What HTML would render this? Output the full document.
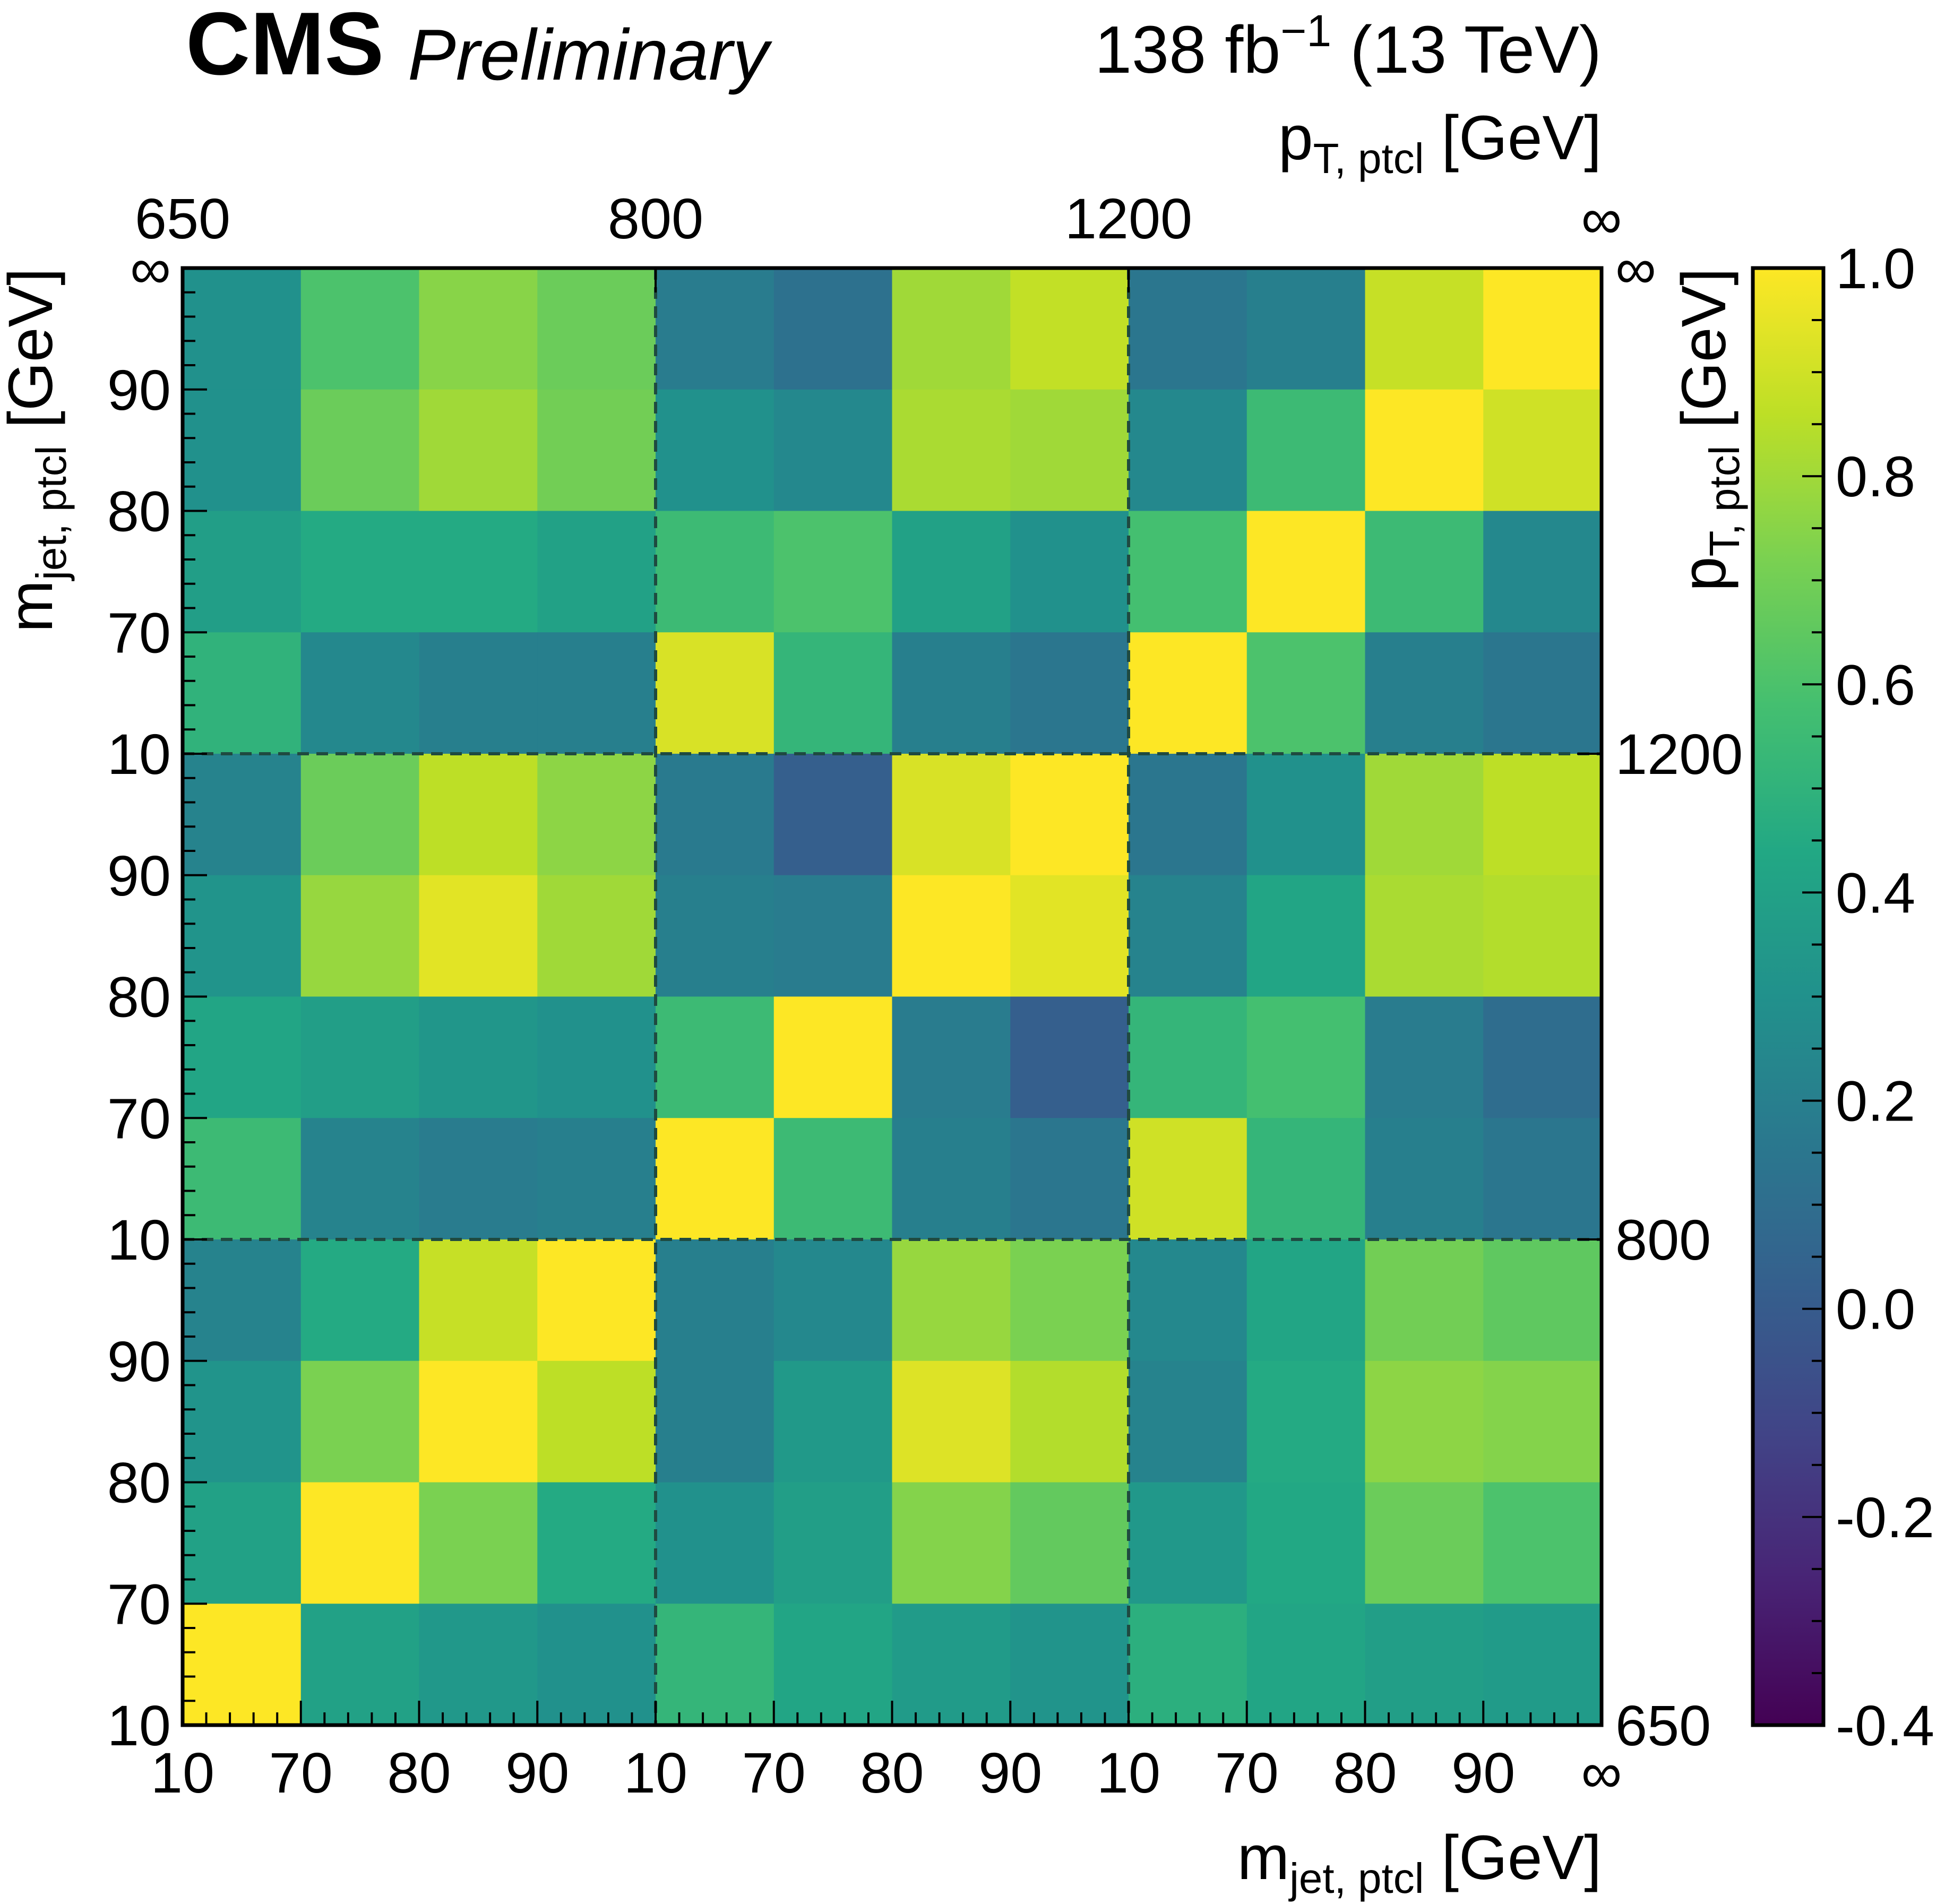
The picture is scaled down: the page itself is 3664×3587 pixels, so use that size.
<!DOCTYPE html>
<html><head><meta charset="utf-8"><style>
html,body{margin:0;padding:0;background:#fff}
svg{display:block;font-family:"Liberation Sans",Arial,sans-serif}
</style></head><body>
<svg id="chart" xmlns="http://www.w3.org/2000/svg" width="3664" height="3587" viewBox="0 0 3664 3587">
<rect width="3664" height="3587" fill="#fff"/>
<g id="cells"></g>
<g id="grid"></g>
<g id="ticks"></g>
<g id="cbar"></g>
<text x="350" y="140" font-size="168" font-weight="bold">CMS</text>
<text x="768" y="150" font-size="136" font-style="italic">Preliminary</text>
<text x="3017" y="137" font-size="126" text-anchor="end">138 fb<tspan font-size="84" dy="-50">−1</tspan><tspan dy="50"> (13 TeV)</tspan></text>
<text x="3017" y="300" font-size="118" text-anchor="end">p<tspan font-size="80" dy="26">T, ptcl</tspan><tspan dy="-26"> [GeV]</tspan></text>
<text x="3017" y="3540" font-size="118" text-anchor="end">m<tspan font-size="80" dy="26">jet, ptcl</tspan><tspan dy="-26"> [GeV]</tspan></text>
<text transform="translate(98,505) rotate(-90)" font-size="118" text-anchor="end">m<tspan font-size="80" dy="26">jet, ptcl</tspan><tspan dy="-26"> [GeV]</tspan></text>
<text transform="translate(3250,505) rotate(-90)" font-size="118" text-anchor="end">p<tspan font-size="80" dy="26">T, ptcl</tspan><tspan dy="-26"> [GeV]</tspan></text>
</svg>
<script>
// data
const massLabels = ["10","70","80","90","10","70","80","90","10","70","80","90","∞"];
const ptLabels = ["650","800","1200","∞"];
const cbarTicks = [-0.4,-0.2,0.0,0.2,0.4,0.6,0.8,1.0];
// rows from top to bottom
const row0 = [0.30,0.60,0.75,0.68,0.18,0.12,0.80,0.87,0.15,0.20,0.88,1.00];
const row1 = [0.30,0.68,0.80,0.70,0.30,0.25,0.82,0.80,0.25,0.55,1.00,0.90];
const row2 = [0.38,0.45,0.45,0.40,0.55,0.60,0.40,0.30,0.58,1.00,0.55,0.25];
const row3 = [0.50,0.25,0.20,0.20,0.92,0.52,0.20,0.15,1.00,0.60,0.20,0.15];
const row4 = [0.22,0.68,0.86,0.76,0.17,0.02,0.92,1.00,0.15,0.30,0.80,0.86];
const row5 = [0.32,0.78,0.94,0.80,0.20,0.18,1.00,0.94,0.22,0.42,0.82,0.84];
const row6 = [0.42,0.38,0.33,0.30,0.55,1.00,0.18,0.02,0.52,0.58,0.18,0.10];
const row7 = [0.55,0.22,0.18,0.20,1.00,0.55,0.20,0.15,0.90,0.52,0.20,0.15];
const row8 = [0.22,0.45,0.88,1.00,0.20,0.25,0.78,0.72,0.25,0.42,0.70,0.65];
const row9 = [0.32,0.72,1.00,0.86,0.20,0.35,0.93,0.84,0.22,0.45,0.76,0.74];
const row10 = [0.40,1.00,0.72,0.45,0.30,0.38,0.74,0.66,0.34,0.44,0.68,0.60];
const row11 = [1.00,0.40,0.34,0.30,0.52,0.42,0.36,0.32,0.48,0.42,0.38,0.36];
const matrix = [row0,row1,row2,row3,row4,row5,row6,row7,row8,row9,row10,row11];

const L=344,R=3017,T=505,B=3250,N=12;
const CL=3302,CR=3435,VMIN=-0.4,VMAX=1.0;
const ns="http://www.w3.org/2000/svg";
const xs=i=>L+(R-L)*i/N;
const ys=i=>T+(B-T)*i/N;
const cy=v=>B-(B-T)*(v-VMIN)/(VMAX-VMIN);
const vir=[[68,1,84],[72,36,117],[65,68,135],[53,95,141],[42,120,142],[33,145,140],[34,168,132],[68,191,112],[122,209,81],[189,223,38],[253,231,37]];
function color(v){let t=Math.max(0,Math.min(1,(v-VMIN)/(VMAX-VMIN)))*(vir.length-1);let i=Math.min(Math.floor(t),vir.length-2),f=t-i;const c=vir[i].map((a,k)=>Math.round(a+(vir[i+1][k]-a)*f));return `rgb(${c})`;}
function mk(tag,attrs,parent){const e=document.createElementNS(ns,tag);for(const k in attrs)e.setAttribute(k,attrs[k]);parent.appendChild(e);return e;}

const cells=document.getElementById('cells');
matrix.forEach((row,r)=>row.forEach((v,c)=>{
  const e=mk('rect',{x:xs(c),y:ys(r),width:xs(c+1)-xs(c)+0.5,height:ys(r+1)-ys(r)+0.5,fill:color(v)},cells);
  
  
}));
const grid=document.getElementById('grid');
[4,8].forEach(i=>{
  mk('line',{x1:xs(i),x2:xs(i),y1:T,y2:B,stroke:'#1f4a40','stroke-width':6,'stroke-dasharray':'22,14'},grid);
  mk('line',{x1:L,x2:R,y1:ys(i),y2:ys(i),stroke:'#1f4a40','stroke-width':6,'stroke-dasharray':'22,14'},grid);
});
const tk=document.getElementById('ticks');
for(let i=0;i<=N;i++){
  for(let m=0;m<5;m++){
    if(i==N&&m>0)break;
    const len=m==0?46:24, f=i+m/5;
    const x=xs(f), y=ys(f);
    mk('line',{x1:x,x2:x,y1:B,y2:B-len,stroke:'#000','stroke-width':4},tk);
    mk('line',{x1:L,x2:L+len,y1:y,y2:y,stroke:'#000','stroke-width':4},tk);
    if(i%4==0&&m==0){
      mk('line',{x1:x,x2:x,y1:T,y2:T+len,stroke:'#000','stroke-width':4},tk);
      mk('line',{x1:R,x2:R-len,y1:y,y2:y,stroke:'#000','stroke-width':4},tk);
    }
  }
  const bl=mk('text',{x:xs(i),y:3377,'font-size':108,'text-anchor':'middle'},tk);bl.textContent=massLabels[i];
  
  
  const ll=mk('text',{x:322,y:B-(B-T)*i/N+38,'font-size':108,'text-anchor':'end'},tk);ll.textContent=massLabels[i];
  
  
}
ptLabels.forEach((s,k)=>{
  const t=mk('text',{x:xs(k*4),y:449,'font-size':108,'text-anchor':'middle'},tk);t.textContent=s;
  
  
  const r=mk('text',{x:3043,y:B-(B-T)*k/3+38,'font-size':108},tk);r.textContent=s;
  
  
});
mk('rect',{x:L,y:T,width:R-L,height:B-T,fill:'none',stroke:'#000','stroke-width':7},tk);

const cb=document.getElementById('cbar');
const defs=mk('defs',{},cb);
const g=mk('linearGradient',{id:'vg',x1:0,y1:1,x2:0,y2:0},defs);
for(let k=0;k<=20;k++){mk('stop',{offset:k/20,'stop-color':color(VMIN+(VMAX-VMIN)*k/20)},g);}
mk('rect',{x:CL,y:T,width:CR-CL,height:B-T,fill:'url(#vg)'},cb);
for(let v=-0.4;v<=1.0001;v+=0.05){
  const major=Math.abs(Math.round(v*10)-v*10)<1e-6&&Math.round(v*10)%2==0;
  const y=cy(v);
  mk('line',{x1:CR,x2:CR-(major?40:22),y1:y,y2:y,stroke:'#000','stroke-width':4},cb);
}
cbarTicks.forEach(v=>{
  const t=mk('text',{x:3458,y:cy(v)+38,'font-size':108},cb);t.textContent=v.toFixed(1);
  
  
});
mk('rect',{x:CL,y:T,width:CR-CL,height:B-T,fill:'none',stroke:'#000','stroke-width':7},cb);
</script>
</body></html>
